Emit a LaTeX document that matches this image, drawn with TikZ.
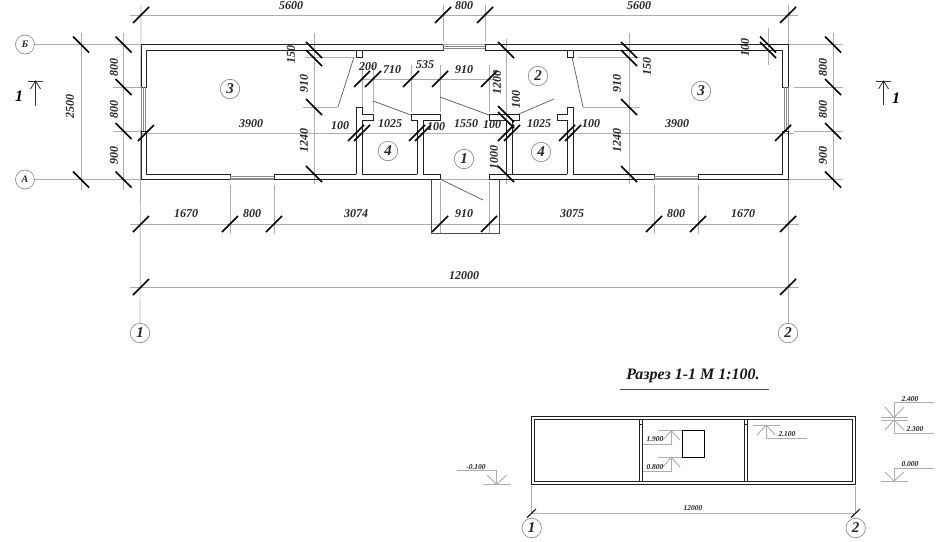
\documentclass[tikz,border=0pt]{standalone}
\usepackage{fontspec}
\setmainfont{Liberation Serif}
\definecolor{extc}{gray}{0.68}
\definecolor{wallc}{gray}{0.13}
\newcommand{\tkh}[2]{\draw[tickln] (#1-8,#2+8) -- (#1+8,#2-8);}
\newcommand{\tkv}[2]{\draw[tickln] (#1-8,#2-8) -- (#1+8,#2+8);}
\newcommand{\lab}[3]{\node[dimt] at (#1,#2) {#3};}
\newcommand{\labr}[3]{\node[dimt,rotate=90] at (#1,#2) {#3};}
\newcommand{\labs}[3]{\node[smallt] at (#1,#2) {#3};}
\tikzset{
  ext/.style={draw=extc,line width=0.7pt},
  lvl/.style={draw=extc,line width=0.9pt},
  wall/.style={draw=wallc,line width=1pt,line join=miter},
  win/.style={draw=extc!80!black,line width=0.8pt},
  tickln/.style={draw=black,line width=1.7pt},
  thin dark/.style={draw=black!65,line width=0.7pt},
  dimt/.style={font=\fontsize{12}{12}\selectfont\bfseries\itshape,inner sep=0pt,text=black!85},
  smallt/.style={font=\fontsize{7.5}{8}\selectfont\bfseries\itshape,inner sep=0pt,text=black!85},
  roomc/.style={circle,draw=black!50,line width=0.6pt,minimum size=19.5pt,inner sep=0pt,font=\fontsize{15}{15}\selectfont\itshape\bfseries,text=black!85},
  axc/.style={circle,draw=black!50,line width=0.6pt,minimum size=19pt,inner sep=0pt,font=\fontsize{10}{10}\selectfont\itshape\bfseries,text=black!85},
}
\begin{document}
\begin{tikzpicture}[x=1pt,y=-1pt]
\useasboundingbox (0,0) rectangle (944,541);
\fill[white] (0,0) rectangle (944,541);
% axis marks
\node[axc] (axB) at (25,44.5) {Б};
\node[axc] (axA) at (25,179.5) {А};
\node[roomc] (g1) at (140,333) {1};
\node[roomc] (g2) at (788,333) {2};
\draw[ext] (axB) -- (843,44.5);
\draw[ext] (axA) -- (843,179.5);
\draw[ext] (g1) -- (141,5);
\draw[ext] (g2) -- (788,5);
% horizontal dimension lines
\draw[ext] (130,15) -- (798,15);
\draw[ext] (130,224) -- (799,224);
\draw[ext] (130,287) -- (799,287);
\draw[ext] (141,133) -- (794,133);
\draw[ext] (362,79) -- (497,79);
% vertical dimension lines
\draw[ext] (81,33) -- (81,190);
\draw[ext] (123.5,33) -- (123.5,190);
\draw[ext] (833,33) -- (833,190);
\draw[ext] (314,33) -- (314,184);
\draw[ext] (629,33) -- (629,184);
\draw[ext] (506,39) -- (506,184);
\draw[ext] (768,28) -- (768,65);
% extension lines
\foreach \yy in {87,131} {\draw[ext] (113,\yy) -- (141,\yy); \draw[ext] (794,\yy) -- (843,\yy);}
\draw[ext] (305,57) -- (353,57);
\draw[ext] (303,107) -- (338,107);
\draw[ext] (578,57) -- (640,57);
\draw[ext] (583,107) -- (640,107);
\foreach \xx in {230,274,654,698} {\draw[ext] (\xx,185) -- (\xx,234);}
\draw[ext] (443,5) -- (443,41);
\draw[ext] (485,5) -- (485,41);
\draw[ext] (440,182) -- (440,234);
\draw[ext] (489,182) -- (489,234);
\draw[ext] (362,65) -- (362,107);
\draw[ext] (373,65) -- (373,112);
\draw[ext] (411,65) -- (411,112);
\draw[ext] (440,65) -- (440,112);
\draw[ext] (489,65) -- (489,112);
% outer walls
\draw[wall] (443,44.5) -- (141,44.5) -- (141,179.5) -- (440,179.5) -- (440,174) -- (423,174);
\draw[wall] (485,44.5) -- (788,44.5) -- (788,179.5) -- (489,179.5) -- (489,174) -- (512,174);
\draw[wall] (443,44.5) -- (443,50) -- (146.5,50) -- (146.5,87) -- (141,87);
\draw[wall] (141,131) -- (146.5,131) -- (146.5,174) -- (230,174) -- (230,179.5);
\draw[wall] (274,179.5) -- (274,174) -- (356,174);
\draw[wall] (362,174) -- (417,174);
\draw[wall] (485,44.5) -- (485,50) -- (782.5,50) -- (782.5,87) -- (788,87);
\draw[wall] (788,131) -- (782.5,131) -- (782.5,174) -- (698,174) -- (698,179.5);
\draw[wall] (654,179.5) -- (654,174) -- (573,174);
\draw[wall] (567,174) -- (512,174);
% windows
\draw[win] (443,46.5) -- (485,46.5);
\draw[win] (443,48.5) -- (485,48.5);
\draw[win] (143,87) -- (143,131);
\draw[win] (145,87) -- (145,131);
\draw[win] (784,87) -- (784,131);
\draw[win] (786,87) -- (786,131);
\draw[win] (230,176) -- (274,176);
\draw[win] (230,178) -- (274,178);
\draw[win] (654,176) -- (698,176);
\draw[win] (654,178) -- (698,178);
\draw[draw=white,line width=1.4pt] (230.8,179.5) -- (273.2,179.5) (654.8,179.5) -- (697.2,179.5);
\draw[win] (230,179.5) -- (274,179.5) (654,179.5) -- (698,179.5);
\draw[draw=white,line width=1.4pt] (141,87.8) -- (141,130.2) (788,87.8) -- (788,130.2);
\draw[win] (141,87) -- (141,131) (788,87) -- (788,131);
% partitions
\draw[wall] (356,174) -- (356,107) -- (362,107) -- (362,114) -- (373,114) -- (373,120) -- (362,120) -- (362,174);
\draw[wall] (417,174) -- (417,120) -- (411,120) -- (411,114) -- (440,114) -- (440,120) -- (423,120) -- (423,174);
\draw[wall] (506,174) -- (506,120) -- (489,120) -- (489,114) -- (519,114) -- (519,120) -- (512,120) -- (512,174);
\draw[wall] (573,174) -- (573,107) -- (567,107) -- (567,114) -- (557,114) -- (557,120) -- (567,120) -- (567,174);
\draw[wall] (356,50) -- (356,57) -- (362,57) -- (362,50);
\draw[wall] (567,50) -- (567,57) -- (573,57) -- (573,50);
% porch
\draw[draw=black!70,line width=0.9pt] (431,180) -- (431,233) -- (499,233) -- (499,180);
% door swings
\draw[thin dark] (354,57) -- (338,107);
\draw[thin dark] (572,57) -- (583,107);
\draw[thin dark] (373,101) -- (411,115);
\draw[thin dark] (440,97) -- (489,115);
\draw[thin dark] (519,114) -- (554,99);
\draw[thin dark] (440,179) -- (483,200);
% ticks
\foreach \xx in {141,443,485,788} {\tkh{\xx}{15}}
\foreach \xx in {141,230,274,440,489,654,698,788} {\tkh{\xx}{224}}
\foreach \xx in {141,788} {\tkh{\xx}{287}}
\foreach \xx in {146,356,362,417,423,506,512,567,573,783} {\tkh{\xx}{133}}
\foreach \xx in {362,373,411,440,489} {\tkh{\xx}{79}}
\foreach \yy in {44.5,179.5} {\tkv{81}{\yy}}
\foreach \yy in {44.5,87,131,179.5} {\tkv{123.5}{\yy}\tkv{833}{\yy}}
\foreach \yy in {50,58,107,174} {\tkv{314}{\yy}\tkv{629}{\yy}}
\foreach \yy in {50,114,120,174} {\tkv{506}{\yy}}
\foreach \yy in {44.5,50} {\tkv{768}{\yy}}
% dimension text
\lab{291}{6}{5600}\lab{464}{6}{800}\lab{639}{6}{5600}
\labr{70}{106}{2500}\labr{114}{67}{800}\labr{114}{109}{800}\labr{114}{155}{900}
\labr{823}{67}{800}\labr{823}{109}{800}\labr{823}{155}{900}
\lab{186}{214}{1670}\lab{252}{214}{800}\lab{356}{214}{3074}\lab{464}{214}{910}
\lab{572}{214}{3075}\lab{676}{214}{800}\lab{743}{214}{1670}\lab{464}{276}{12000}
\lab{251}{124}{3900}\lab{677}{124}{3900}\lab{340}{126}{100}\lab{390}{124}{1025}
\lab{436}{127}{100}\lab{466}{124}{1550}\lab{492}{125}{100}\lab{539}{124}{1025}\lab{591}{124}{100}
\labr{291}{54}{150}\labr{304}{83}{910}\labr{304}{140}{1240}
\labr{647}{66}{150}\labr{617}{83}{910}\labr{617}{140}{1240}
\labr{745}{47}{100}
\lab{368}{67}{200}\lab{392}{70}{710}\lab{425}{65}{535}\lab{464}{70}{910}
\labr{497}{82}{1200}\labr{516}{99}{100}\labr{494}{157}{1000}
% rooms
\node[roomc] (r3a) at (230,89) {3};
\node[roomc] (r3b) at (701,91) {3};
\node[roomc] (r2) at (538,76) {2};
\node[roomc] (r4a) at (388,151) {4};
\node[roomc] (r4b) at (541,152) {4};
\node[roomc] (r1) at (464,159) {1};
% section marks
\draw[draw=black!80,line width=0.8pt] (28,81) -- (43,81);
\draw[draw=black!80,line width=0.8pt] (35.5,106) -- (35.5,81);
\draw[draw=black!80,line width=0.8pt] (30.5,89) -- (35.5,81) -- (40.5,89);
\node[font=\fontsize{16}{16}\selectfont\bfseries\itshape,inner sep=0pt] (s1a) at (19,96) {1};
\draw[draw=black!80,line width=0.8pt] (876,81) -- (891,81);
\draw[draw=black!80,line width=0.8pt] (883.5,105) -- (883.5,81);
\draw[draw=black!80,line width=0.8pt] (878.5,89) -- (883.5,81) -- (888.5,89);
\node[font=\fontsize{16}{16}\selectfont\bfseries\itshape,inner sep=0pt] (s1b) at (896,98) {1};
% section drawing
\node[font=\fontsize{16}{16}\selectfont\bfseries\itshape,inner sep=0pt,text=black!90] (title) at (693,376) {Разрез 1-1 М 1:100.};
\draw[draw=black!70,line width=1pt] (620,389) -- (769,389);
\draw[wall] (531.7,416.7) rectangle (855.7,484.3);
\draw[wall] (534.7,419.3) rectangle (852.7,481.7);
\draw[wall] (639.3,419.3) -- (639.3,481.7) (642.3,419.3) -- (642.3,481.7) (639.3,424) -- (642.3,424);
\draw[wall] (744.7,419.3) -- (744.7,481.7) (747.7,419.3) -- (747.7,481.7) (744.7,424) -- (747.7,424);
\draw[draw=black,line width=1pt] (682.3,430.3) rectangle (704.3,457.3);
% levels
\begin{scope}[lvl]
\draw (642.7,444) -- (671.3,444) -- (671.3,430.7);
\draw (658,430.7) -- (681.7,430.7);
\draw (663,440) -- (671.3,430.7) -- (680,440);
\draw (642.7,471.7) -- (671.3,471.7) -- (671.3,457.3);
\draw (658,457.3) -- (681.7,457.3);
\draw (663,467) -- (671.3,457.3) -- (680,467);
\draw (456.7,470.7) -- (496.7,470.7) -- (496.7,484.3);
\draw (483.3,484.3) -- (510.7,484.3);
\draw (487,475) -- (496.7,484.3) -- (506.7,475);
\draw (753.3,425) -- (780,425);
\draw (757,435) -- (766.3,425) -- (775,435);
\draw (766.3,425) -- (766.3,438.3) -- (806.7,438.3);
\draw (934.3,402.7) -- (894,402.7) -- (894,433) -- (934.3,433);
\draw (881,417.7) -- (907.7,417.7) (881,420) -- (907.7,420);
\draw (885,407) -- (894,417.7) -- (904,407);
\draw (885,430) -- (894,420) -- (904,430);
\draw (934.3,468) -- (894,468) -- (894,481);
\draw (881,481) -- (908,481);
\draw (885,472) -- (894,481) -- (904,472);
\end{scope}
\labs{655}{439.3}{1.900}\labs{655}{467}{0.800}\labs{476}{467}{-0.100}
\labs{787}{434}{2.100}\labs{910}{399}{2.400}\labs{915}{429}{2.300}\labs{910}{464}{0.000}
% section dimension
\node[roomc] (g1s) at (531.7,528) {1};
\node[roomc] (g2s) at (855.7,528) {2};
\draw[ext] (531.7,486) -- (531.7,513.3) -- (855.7,513.3) -- (855.7,486);
\draw[draw=black,line width=1pt] (527,517.5) -- (536,509);
\draw[draw=black,line width=1pt] (851,517.5) -- (860,509);
\labs{693}{508}{12000}
\end{tikzpicture}
\end{document}
